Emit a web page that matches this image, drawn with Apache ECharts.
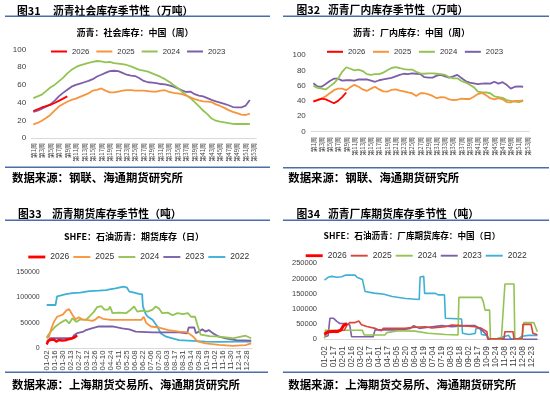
<!DOCTYPE html>
<html><head><meta charset="utf-8">
<script src="https://cdn.jsdelivr.net/npm/echarts@6/dist/echarts.min.js"></script>
<style>html,body{margin:0;padding:0;background:#fff}#c{width:550px;height:395px}</style>
</head><body><div id="c"></div>
<script>
// ---------- data ----------
const weeks = ['第1周','第2周','第3周','第4周','第5周','第6周','第7周','第8周','第9周','第10周','第11周','第12周','第13周','第14周','第15周','第16周','第17周','第18周','第19周','第20周','第21周','第22周','第23周','第24周','第25周','第26周','第27周','第28周','第29周','第30周','第31周','第32周','第33周','第34周','第35周','第36周','第37周','第38周','第39周','第40周','第41周','第42周','第43周','第44周','第45周','第46周','第47周','第48周','第49周','第50周','第51周','第52周','第53周'];
const years4 = ['2026','2025','2024','2023'];
const years5 = ['2026','2025','2024','2023','2022'];

// Fig 31: social inventory (10k t), weekly
const soc2026 = [30.5,32.5,34.5,36,37.5,39.5,42,44.5,47];
const soc2025 = [15.5,17,19.5,22.5,26,31,35.5,38.5,41,43,44.5,46.5,48.5,50.5,53.5,54.5,56,53.5,51.5,51.5,52.5,53.5,54,54,53.5,53.5,53.5,53,52.5,52.5,53.5,54,52,51,50.5,49.5,48,46,44,42.5,41.5,41,40.5,38,36.2,34,31.5,29.5,28,26.5,26,27.5];
const soc2024 = [45,47,49,53,57,60,64,68,73,77,80,82,83.5,85,86,87,86.5,85.5,86,84.5,84,83.5,82.5,81,79,77,76,75,73,71,69,66.5,63.5,60,56.5,52.5,48.5,45,40.5,36,31,27,22,19.5,18.5,17.7,16.8,16,15.8,15.8,15.8,15.8];
const soc2023 = [29.5,31,33,35.5,38,42,47,51,54.5,58,60,61.5,63,64.5,66.5,69.5,71.5,73.5,75.5,76,75.5,73.5,71.5,70.5,70,67.5,64.5,63,62.5,62,61,60.5,59.5,58,56,54,52,52.5,49.5,48,47,45,43,41.5,40,38.5,37,35,34.5,34.5,36.5,43];

// Fig 32: plant inventory (10k t), weekly
const fac2026 = [39,41,43,42,39.5,37,40,45,51];
const fac2025 = [40,41,43,46,50,54,56,56,54,58,61,58.5,55,53,56,58.5,55,52.5,52,54.5,55,53.5,52.5,51,50,46.5,50,50,48.5,46.5,43.5,45,44.5,42,41,41.5,43,42.5,42.5,45.5,49,50.5,47.5,43.5,42,43.5,42,38.5,38,40,40,40.5];
const fac2024 = [60,57,56,55,59,63,69,78,84,82,80,81,79,75,74,75,75,77,80,83,84,83,81.5,81,81,78,76,75.5,76,76,75.5,75,74,71,69.5,69.5,66,64,61,58,52,51,51,50,46,45,44,41,40,39,38.5,40];
const fac2023 = [63,59,58.5,62,66,69,69,66.5,67,67,66.5,68,68,68,66.5,65,67,68,69,70,72,74,75.5,75,76,75.5,75,71,70.5,70.5,73,74,72,70.5,72,74,70,66,64,63,62,62.5,63,62.5,65,62.5,64.5,61,56,58.5,59,58.5];

// Fig 33: SHFE futures inventory (t); [trading-day index, value]
const futTicks = ['01-02','01-16','01-30','02-13','02-27','03-12','03-26','04-10','04-24','05-11','05-25','06-08','06-22','07-06','07-20','08-03','08-17','08-31','09-14','09-28','10-19','11-02','11-16','11-30','12-14','12-28'];
const fut2026 = [[0,8000],[2,15000],[5,17000],[9,17500],[12,13500],[15,16500],[19,15500],[23,16000],[27,18000],[31,19500],[35,22000],[38,26000]];
const fut2025 = [[0,20000],[3,24000],[6,40000],[9,52000],[13,62000],[20,66000],[25,75000],[28,77000],[30,76000],[32,66000],[36,57000],[40,61000],[44,57000],[50,56000],[57,54000],[61,57000],[65,62000],[70,58000],[80,56000],[100,56000],[118,56000],[121,62000],[124,50000],[130,43000],[140,41000],[152,36000],[165,33000],[175,32000],[182,24000],[188,14000],[198,10000],[215,7000],[232,5000],[248,6500],[255,10000]];
const fut2024 = [[0,22000],[5,33000],[11,43000],[17,50000],[24,56000],[28,49000],[32,59000],[34,61000],[37,52000],[42,57000],[49,56000],[53,62000],[59,72000],[63,81000],[68,83000],[72,76000],[77,76000],[79,82000],[82,69000],[90,70000],[99,69000],[105,76000],[109,82000],[113,72000],[120,74000],[126,72000],[132,76000],[136,82000],[140,78000],[144,69000],[151,70000],[157,65000],[163,69000],[170,67000],[176,69000],[180,62000],[185,62000],[188,46000],[192,27000],[203,24000],[215,23000],[232,20000],[248,25000],[255,20000]];
const fut2023 = [[0,13000],[4,20000],[32,20000],[34,26000],[38,30000],[46,33000],[49,36000],[55,39000],[65,43000],[82,43000],[94,39500],[103,37500],[111,33000],[132,31500],[165,31500],[175,29500],[177,41000],[184,41000],[186,30000],[190,33000],[194,37500],[198,33000],[202,36000],[207,30000],[211,26500],[215,23000],[223,20000],[236,16500],[255,15500]];
const fut2022 = [[0,85000],[11,85000],[13,102000],[24,106000],[32,108000],[42,109000],[53,112000],[65,113000],[74,114000],[80,116000],[86,117500],[90,119000],[96,121000],[100,119000],[103,111000],[109,109000],[115,106500],[119,106000],[120,82000],[123,69000],[126,62000],[132,56000],[138,43000],[142,30000],[149,23000],[157,20000],[165,16500],[182,15000],[198,13500],[215,13000],[236,13500],[255,13500]];

// Fig 34: SHFE plant warrant inventory (t); [index, value]
const plantTicks = ['01-02','01-17','02-01','02-16','03-02','03-17','04-01','04-17','05-05','05-20','06-04','06-19','07-04','07-19','08-03','08-18','09-02','09-17','10-09','10-24','11-08','11-23','12-08','12-23'];
const plant2026 = [[0,17000],[4,25000],[10,26000],[15,26000],[18,30000],[21,45000],[25,52000]];
const plant2025 = [[0,14000],[4,25000],[8,28000],[22,30000],[25,47000],[28,55000],[34,55000],[38,60000],[40,63000],[41,48000],[47,42000],[56,36000],[60,31000],[63,28000],[65,36000],[89,36000],[100,39500],[112,41500],[119,37000],[134,41500],[141,47000],[152,45000],[167,41500],[174,36000],[180,25000],[181,2000],[199,2000],[200,25000],[209,25000],[210,2000],[219,2000],[220,49000],[229,49000],[231,20000],[236,15000]];
const plant2024 = [[0,3000],[1,30000],[42,30000],[44,14000],[67,14000],[69,22000],[82,28000],[100,27000],[115,20000],[134,16000],[148,14000],[149,138000],[174,138000],[176,124000],[178,96000],[183,96000],[184,0],[196,0],[200,182000],[210,182000],[211,0],[219,0],[221,55000],[232,55000],[236,25000]];
const plant2023 = [[0,8500],[4,12000],[6,69000],[10,69000],[14,58000],[17,52000],[23,52000],[28,47000],[30,8500],[54,8500],[56,31000],[85,31000],[95,36000],[99,45000],[105,36000],[115,39500],[130,45000],[141,41500],[156,45000],[167,45000],[174,31000],[180,14000],[182,0],[236,0]];
const plant2022 = [[0,195000],[4,204000],[8,207000],[14,204000],[19,206000],[23,211000],[34,211000],[36,204000],[42,197000],[44,194000],[45,157000],[47,153000],[55,152000],[56,149000],[66,148000],[67,142000],[75,141000],[77,137000],[90,134000],[105,131000],[106,205000],[110,207000],[111,151000],[123,151000],[126,146000],[133,146000],[134,69000],[152,67000],[153,20000],[160,16000],[167,19000],[168,36000],[173,36000],[174,16000],[180,13000],[181,0],[189,0],[197,7000],[204,13000],[207,0],[215,2000],[219,10000],[226,13000],[236,13000]];

// ---------- chart ----------
const COL = {r:'#ff0000', o:'#f7953d', g:'#93c353', p:'#7d5fa9', c:'#3fb0d5', d:'#d9443c'};
const LF = '"Liberation Sans", Arial, sans-serif';
const CJK = '"Noto Sans CJK SC", sans-serif';
const AX = '#404040';
const plain = function(v){ return String(v); };

function ln(name, xi, data, color, w) {
  return {type:'line', name:name, xAxisIndex:xi, yAxisIndex:xi, data:data, symbol:'none',
    smooth:false, lineStyle:{color:color, width:w}, itemStyle:{color:color}, animation:false, z:2};
}
function txt(x, y, s, size, align, weight) {
  return {type:'text', x:x, y:y, silent:true, style:{text:s, font:(weight||'bold')+' '+size+'px '+CJK,
    fill:'#000', align:align||'left', verticalAlign:'middle'}};
}
function hl(x1, x2, y) {
  return {type:'line', silent:true, shape:{x1:x1, y1:y, x2:x2, y2:y}, style:{stroke:'#4a6ea9', lineWidth:1.5}};
}
const thin = 'path://M0,0H18V2H0Z', thick = 'path://M0,0H18V3H0Z';

const option = {
  animation:false,
  backgroundColor:'#fff',
  grid:[
    {left:31.2, top:49.5, width:225, height:88.5},
    {left:311.3, top:55, width:218, height:76.5},
    {left:46.7, top:271.7, width:205.3, height:76.8},
    {left:324.5, top:263.3, width:214.7, height:76}
  ],
  xAxis:[
    {gridIndex:0, type:'category', data:weeks, boundaryGap:true,
      axisLine:{lineStyle:{color:'#d9d9d9'}}, axisTick:{show:false},
      axisLabel:{interval:1, rotate:90, fontSize:6, color:AX, margin:5, fontFamily:CJK}},
    {gridIndex:1, type:'category', data:weeks, boundaryGap:true,
      axisLine:{lineStyle:{color:'#d9d9d9'}}, axisTick:{show:false},
      axisLabel:{interval:1, rotate:90, fontSize:6, color:AX, margin:5.5, fontFamily:CJK}},
    {gridIndex:2, type:'value', min:0, max:256, interval:10, splitLine:{show:false},
      axisLine:{show:true, lineStyle:{color:'#d9d9d9'}}, axisTick:{show:false},
      axisLabel:{rotate:90, fontSize:7.8, color:AX, margin:2, fontFamily:LF, showMaxLabel:false,
        formatter:function(v){ return (v % 10 === 0 && futTicks[v/10]) ? futTicks[v/10] : ''; }}},
    {gridIndex:3, type:'value', min:0, max:238, interval:10, splitLine:{show:false},
      axisLine:{show:true, lineStyle:{color:'#d9d9d9'}}, axisTick:{show:false},
      axisLabel:{rotate:90, fontSize:8.2, color:AX, margin:7, fontFamily:LF, showMaxLabel:false,
        formatter:function(v){ return (v % 10 === 0 && plantTicks[v/10]) ? plantTicks[v/10] : ''; }}}
  ],
  yAxis:[
    {gridIndex:0, type:'value', min:0, max:100, interval:20, splitLine:{show:false}, axisLine:{show:false}, axisTick:{show:false},
      axisLabel:{fontSize:8, color:AX, margin:5, fontFamily:LF, formatter:plain}},
    {gridIndex:1, type:'value', min:0, max:100, interval:20, splitLine:{show:false}, axisLine:{show:false}, axisTick:{show:false},
      axisLabel:{fontSize:8, color:AX, margin:5.5, fontFamily:LF, formatter:plain}},
    {gridIndex:2, type:'value', min:0, max:150000, interval:50000, splitLine:{show:false}, axisLine:{show:false}, axisTick:{show:false},
      axisLabel:{fontSize:7, color:AX, margin:7, fontFamily:LF, formatter:plain}},
    {gridIndex:3, type:'value', min:0, max:250000, interval:50000, splitLine:{show:false}, axisLine:{show:false}, axisTick:{show:false},
      axisLabel:{fontSize:7.5, color:AX, margin:7.5, fontFamily:LF, formatter:plain}}
  ],
  legend:[
    {left:51, top:47.5, padding:0, itemWidth:16, itemHeight:2, itemGap:7, icon:'rect', selectedMode:false,
      data:years4.map(function(y){return 'a'+y;}), formatter:function(n){return n.slice(1);},
      textStyle:{fontSize:7.8, color:'#333', fontFamily:LF}},
    {left:327, top:47.8, padding:0, itemWidth:16, itemHeight:2, itemGap:7.6, icon:'rect', selectedMode:false,
      data:years4.map(function(y){return 'b'+y;}), formatter:function(n){return n.slice(1);},
      textStyle:{fontSize:7.8, color:'#333', fontFamily:LF}},
    {left:28.3, top:252.5, padding:0, itemWidth:17, itemHeight:3, itemGap:4.1, selectedMode:false,
      data:years5.map(function(y){return {name:'c'+y, icon:(y==='2026'?thick:thin)};}), formatter:function(n){return n.slice(1);},
      textStyle:{fontSize:8.5, color:'#333', fontFamily:LF}},
    {left:305.7, top:251.2, padding:0, itemWidth:17, itemHeight:3, itemGap:4.1, selectedMode:false,
      data:years5.map(function(y){return {name:'d'+y, icon:(y==='2026'?thick:thin)};}), formatter:function(n){return n.slice(1);},
      textStyle:{fontSize:8.5, color:'#333', fontFamily:LF}}
  ],
  series:[
    ln('a2023',0,soc2023,COL.p,1.8), ln('a2024',0,soc2024,COL.g,1.8), ln('a2025',0,soc2025,COL.o,1.8), ln('a2026',0,soc2026,COL.r,1.8),
    ln('b2023',1,fac2023,COL.p,1.8), ln('b2024',1,fac2024,COL.g,1.8), ln('b2025',1,fac2025,COL.o,1.8), ln('b2026',1,fac2026,COL.r,1.8),
    ln('c2022',2,fut2022,COL.c,1.8), ln('c2023',2,fut2023,COL.p,1.8), ln('c2024',2,fut2024,COL.g,1.8), ln('c2025',2,fut2025,COL.o,1.8), ln('c2026',2,fut2026,COL.r,2.5),
    ln('d2022',3,plant2022,COL.c,1.6), ln('d2023',3,plant2023,COL.p,1.6), ln('d2024',3,plant2024,COL.g,1.6), ln('d2025',3,plant2025,COL.d,1.6), ln('d2026',3,plant2026,COL.r,3)
  ],
  graphic:[
    txt(17,10.5,'图31',10.8), txt(53,10.5,'沥青社会库存季节性（万吨）',10.8),
    txt(296.5,10.3,'图32',10.8), txt(328,10.3,'沥青厂内库存季节性（万吨）',10.8),
    txt(18,214.3,'图33',10.8), txt(52,214.3,'沥青期货库存季节性（吨）',10.8),
    txt(296.5,214,'图34',10.8), txt(328,214,'沥青厂库期货库存季节性（吨）',10.8),
    hl(5,270,16.3), hl(283,549,16.3), hl(5,270,220.3), hl(283,549,220.3),
    hl(5,270,167.3), hl(283,549,167.7), hl(5,268,372.3), hl(283,549,372.3),
    txt(135,32.3,'沥青：社会库存：中国（周）',9,'center'),
    txt(411.5,32.3,'沥青：厂内库存：中国（周）',9,'center'),
    txt(134,236.7,'SHFE：石油沥青：期货库存（日）',9,'center'),
    txt(412,236,'SHFE：石油沥青：厂库期货库存：中国（日）',8.6,'center'),
    txt(12,177.5,'数据来源：钢联、海通期货研究所',11.4),
    txt(288.3,178,'数据来源：钢联、海通期货研究所',11.4),
    txt(12,384.3,'数据来源：上海期货交易所、海通期货研究所',11.4),
    txt(288.3,384.3,'数据来源：上海期货交易所、海通期货研究所',11.4)
  ]
};
const chart = echarts.init(document.getElementById('c'), null, {renderer:'canvas', width:550, height:395});
chart.setOption(option);
</script>
</body></html>
